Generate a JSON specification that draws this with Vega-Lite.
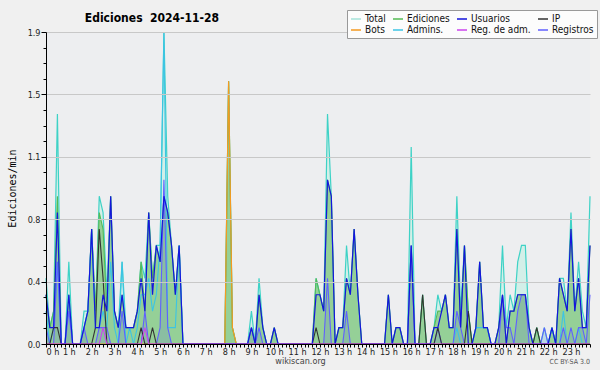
{
  "$schema": "https://vega.github.io/schema/vega-lite/v6.json",
  "autosize": {"type": "none"},
  "width": 544,
  "height": 312,
  "padding": {"left": 46, "top": 32, "right": 10, "bottom": 26},
  "background": "#f0f0f0",
  "config": {
    "view": {"fill": "#edeef0", "stroke": null},
    "font": "DejaVu Sans Condensed, DejaVu Sans"
  },
  "resolve": {"axis": {"x": "independent", "y": "independent"}},
  "data": {
    "values": [
      {"m":0,"T":0.4,"E":0.3,"U":0.3,"I":0,"B":0,"A":0.2,"R":0,"L":0.1},
      {"m":10,"T":0.1,"E":0.1,"U":0.1,"I":0,"B":0,"A":0,"R":0,"L":0},
      {"m":20,"T":0.2,"E":0.2,"U":0.1,"I":0.1,"B":0,"A":0.1,"R":0,"L":0},
      {"m":30,"T":1.4,"E":0.9,"U":0.8,"I":0.1,"B":0,"A":0.5,"R":0,"L":0.5},
      {"m":40,"T":0,"E":0,"U":0,"I":0,"B":0,"A":0,"R":0,"L":0},
      {"m":50,"T":0,"E":0,"U":0,"I":0,"B":0,"A":0,"R":0,"L":0},
      {"m":60,"T":0.5,"E":0.3,"U":0.3,"I":0,"B":0,"A":0.3,"R":0,"L":0.2},
      {"m":70,"T":0,"E":0,"U":0,"I":0,"B":0,"A":0,"R":0,"L":0},
      {"m":80,"T":0,"E":0,"U":0,"I":0,"B":0,"A":0,"R":0,"L":0},
      {"m":90,"T":0,"E":0,"U":0,"I":0,"B":0,"A":0,"R":0,"L":0},
      {"m":100,"T":0.2,"E":0.1,"U":0.1,"I":0,"B":0,"A":0.1,"R":0,"L":0.1},
      {"m":110,"T":0.2,"E":0.2,"U":0.2,"I":0,"B":0,"A":0.2,"R":0,"L":0},
      {"m":120,"T":0.7,"E":0.7,"U":0.7,"I":0,"B":0,"A":0.7,"R":0,"L":0},
      {"m":130,"T":0.2,"E":0.2,"U":0.1,"I":0.1,"B":0,"A":0.1,"R":0,"L":0},
      {"m":140,"T":0.9,"E":0.8,"U":0.1,"I":0.7,"B":0,"A":0.1,"R":0,"L":0.1},
      {"m":150,"T":0.8,"E":0.7,"U":0.3,"I":0.4,"B":0,"A":0.2,"R":0.1,"L":0.1},
      {"m":160,"T":0.3,"E":0.2,"U":0.2,"I":0,"B":0,"A":0.1,"R":0,"L":0.1},
      {"m":170,"T":0.9,"E":0.9,"U":0.9,"I":0,"B":0,"A":0.5,"R":0,"L":0},
      {"m":180,"T":0.2,"E":0.2,"U":0.2,"I":0,"B":0,"A":0.1,"R":0,"L":0},
      {"m":190,"T":0.1,"E":0.1,"U":0.1,"I":0,"B":0,"A":0,"R":0,"L":0},
      {"m":200,"T":0.5,"E":0.3,"U":0.3,"I":0,"B":0,"A":0.5,"R":0,"L":0.2},
      {"m":210,"T":0.1,"E":0.1,"U":0.1,"I":0,"B":0,"A":0,"R":0,"L":0},
      {"m":220,"T":0.1,"E":0.1,"U":0.1,"I":0,"B":0,"A":0.1,"R":0,"L":0},
      {"m":230,"T":0.1,"E":0.1,"U":0.1,"I":0,"B":0,"A":0,"R":0,"L":0},
      {"m":240,"T":0.2,"E":0.2,"U":0.2,"I":0,"B":0,"A":0.1,"R":0,"L":0},
      {"m":250,"T":0.5,"E":0.5,"U":0.4,"I":0.1,"B":0,"A":0.3,"R":0,"L":0},
      {"m":260,"T":0.4,"E":0.2,"U":0.2,"I":0,"B":0,"A":0.3,"R":0.1,"L":0.2},
      {"m":270,"T":0.8,"E":0.8,"U":0.8,"I":0,"B":0,"A":0.4,"R":0,"L":0},
      {"m":280,"T":0.4,"E":0.4,"U":0.3,"I":0.1,"B":0,"A":0.2,"R":0,"L":0},
      {"m":290,"T":0.6,"E":0.6,"U":0.6,"I":0,"B":0,"A":0.3,"R":0,"L":0},
      {"m":300,"T":0.6,"E":0.5,"U":0.5,"I":0,"B":0,"A":0.6,"R":0,"L":0.1},
      {"m":310,"T":1.9,"E":0.9,"U":0.9,"I":0,"B":0,"A":1.9,"R":0,"L":1.0},
      {"m":320,"T":0.9,"E":0.8,"U":0.8,"I":0,"B":0,"A":0.1,"R":0,"L":0.1},
      {"m":330,"T":0.6,"E":0.6,"U":0.6,"I":0,"B":0,"A":0.1,"R":0,"L":0},
      {"m":340,"T":0.3,"E":0.3,"U":0.3,"I":0,"B":0,"A":0.1,"R":0,"L":0},
      {"m":350,"T":0.6,"E":0.6,"U":0.6,"I":0,"B":0,"A":0.6,"R":0,"L":0},
      {"m":360,"T":0,"E":0,"U":0,"I":0,"B":0,"A":0,"R":0,"L":0},
      {"m":370,"T":0,"E":0,"U":0,"I":0,"B":0,"A":0,"R":0,"L":0},
      {"m":380,"T":0,"E":0,"U":0,"I":0,"B":0,"A":0,"R":0,"L":0},
      {"m":390,"T":0,"E":0,"U":0,"I":0,"B":0,"A":0,"R":0,"L":0},
      {"m":400,"T":0,"E":0,"U":0,"I":0,"B":0,"A":0,"R":0,"L":0},
      {"m":410,"T":0,"E":0,"U":0,"I":0,"B":0,"A":0,"R":0,"L":0},
      {"m":420,"T":0,"E":0,"U":0,"I":0,"B":0,"A":0,"R":0,"L":0},
      {"m":430,"T":0,"E":0,"U":0,"I":0,"B":0,"A":0,"R":0,"L":0},
      {"m":440,"T":0,"E":0,"U":0,"I":0,"B":0,"A":0,"R":0,"L":0},
      {"m":450,"T":0,"E":0,"U":0,"I":0,"B":0,"A":0,"R":0,"L":0},
      {"m":460,"T":0,"E":0,"U":0,"I":0,"B":0,"A":0,"R":0,"L":0},
      {"m":470,"T":0,"E":0,"U":0,"I":0,"B":0,"A":0,"R":0,"L":0},
      {"m":480,"T":1.6,"E":1.6,"U":0,"I":0,"B":1.6,"A":0,"R":0,"L":0},
      {"m":490,"T":0.1,"E":0.1,"U":0,"I":0,"B":0.1,"A":0,"R":0,"L":0},
      {"m":500,"T":0,"E":0,"U":0,"I":0,"B":0,"A":0,"R":0,"L":0},
      {"m":510,"T":0,"E":0,"U":0,"I":0,"B":0,"A":0,"R":0,"L":0},
      {"m":520,"T":0,"E":0,"U":0,"I":0,"B":0,"A":0,"R":0,"L":0},
      {"m":530,"T":0,"E":0,"U":0,"I":0,"B":0,"A":0,"R":0,"L":0},
      {"m":540,"T":0.2,"E":0.1,"U":0.1,"I":0,"B":0,"A":0,"R":0,"L":0.1},
      {"m":550,"T":0,"E":0,"U":0,"I":0,"B":0,"A":0,"R":0,"L":0},
      {"m":560,"T":0.4,"E":0.3,"U":0.3,"I":0,"B":0,"A":0,"R":0,"L":0.1},
      {"m":570,"T":0.1,"E":0.1,"U":0.1,"I":0,"B":0,"A":0,"R":0,"L":0},
      {"m":580,"T":0,"E":0,"U":0,"I":0,"B":0,"A":0,"R":0,"L":0},
      {"m":590,"T":0,"E":0,"U":0,"I":0,"B":0,"A":0,"R":0,"L":0},
      {"m":600,"T":0.1,"E":0.1,"U":0.1,"I":0,"B":0,"A":0,"R":0,"L":0},
      {"m":610,"T":0,"E":0,"U":0,"I":0,"B":0,"A":0,"R":0,"L":0},
      {"m":620,"T":0,"E":0,"U":0,"I":0,"B":0,"A":0,"R":0,"L":0},
      {"m":630,"T":0,"E":0,"U":0,"I":0,"B":0,"A":0,"R":0,"L":0},
      {"m":640,"T":0,"E":0,"U":0,"I":0,"B":0,"A":0,"R":0,"L":0},
      {"m":650,"T":0,"E":0,"U":0,"I":0,"B":0,"A":0,"R":0,"L":0},
      {"m":660,"T":0,"E":0,"U":0,"I":0,"B":0,"A":0,"R":0,"L":0},
      {"m":670,"T":0,"E":0,"U":0,"I":0,"B":0,"A":0,"R":0,"L":0},
      {"m":680,"T":0,"E":0,"U":0,"I":0,"B":0,"A":0,"R":0,"L":0},
      {"m":690,"T":0,"E":0,"U":0,"I":0,"B":0,"A":0,"R":0,"L":0},
      {"m":700,"T":0,"E":0,"U":0,"I":0,"B":0,"A":0,"R":0,"L":0},
      {"m":710,"T":0.4,"E":0.4,"U":0.3,"I":0.1,"B":0,"A":0,"R":0,"L":0},
      {"m":720,"T":0.3,"E":0.3,"U":0.3,"I":0,"B":0,"A":0,"R":0,"L":0},
      {"m":730,"T":0.2,"E":0.2,"U":0.2,"I":0,"B":0,"A":0,"R":0,"L":0},
      {"m":740,"T":1.4,"E":1.0,"U":1.0,"I":0,"B":0,"A":0,"R":0,"L":0.4},
      {"m":750,"T":0.9,"E":0.9,"U":0.9,"I":0,"B":0,"A":0,"R":0,"L":0},
      {"m":760,"T":0,"E":0,"U":0,"I":0,"B":0,"A":0,"R":0,"L":0},
      {"m":770,"T":0.1,"E":0.1,"U":0.1,"I":0,"B":0,"A":0,"R":0,"L":0},
      {"m":780,"T":0.1,"E":0.1,"U":0.1,"I":0,"B":0,"A":0,"R":0,"L":0},
      {"m":790,"T":0.6,"E":0.4,"U":0.4,"I":0,"B":0,"A":0,"R":0,"L":0.2},
      {"m":800,"T":0.3,"E":0.3,"U":0.3,"I":0,"B":0,"A":0,"R":0,"L":0},
      {"m":810,"T":0.7,"E":0.7,"U":0.7,"I":0,"B":0,"A":0,"R":0,"L":0},
      {"m":820,"T":0.3,"E":0.3,"U":0.3,"I":0,"B":0,"A":0,"R":0,"L":0},
      {"m":830,"T":0,"E":0,"U":0,"I":0,"B":0,"A":0,"R":0,"L":0},
      {"m":840,"T":0,"E":0,"U":0,"I":0,"B":0,"A":0,"R":0,"L":0},
      {"m":850,"T":0,"E":0,"U":0,"I":0,"B":0,"A":0,"R":0,"L":0},
      {"m":860,"T":0,"E":0,"U":0,"I":0,"B":0,"A":0,"R":0,"L":0},
      {"m":870,"T":0,"E":0,"U":0,"I":0,"B":0,"A":0,"R":0,"L":0},
      {"m":880,"T":0,"E":0,"U":0,"I":0,"B":0,"A":0,"R":0,"L":0},
      {"m":890,"T":0,"E":0,"U":0,"I":0,"B":0,"A":0,"R":0,"L":0},
      {"m":900,"T":0.3,"E":0.3,"U":0.3,"I":0,"B":0,"A":0,"R":0,"L":0},
      {"m":910,"T":0,"E":0,"U":0,"I":0,"B":0,"A":0,"R":0,"L":0},
      {"m":920,"T":0.1,"E":0.1,"U":0.1,"I":0,"B":0,"A":0,"R":0,"L":0},
      {"m":930,"T":0.1,"E":0.1,"U":0.1,"I":0,"B":0,"A":0,"R":0,"L":0},
      {"m":940,"T":0,"E":0,"U":0,"I":0,"B":0,"A":0,"R":0,"L":0},
      {"m":950,"T":0,"E":0,"U":0,"I":0,"B":0,"A":0,"R":0,"L":0},
      {"m":960,"T":1.2,"E":0.6,"U":0.6,"I":0,"B":0,"A":0,"R":0,"L":0.6},
      {"m":970,"T":0,"E":0,"U":0,"I":0,"B":0,"A":0,"R":0,"L":0},
      {"m":980,"T":0,"E":0,"U":0,"I":0,"B":0,"A":0,"R":0,"L":0},
      {"m":990,"T":0.3,"E":0.3,"U":0,"I":0.3,"B":0,"A":0,"R":0,"L":0},
      {"m":1000,"T":0,"E":0,"U":0,"I":0,"B":0,"A":0,"R":0,"L":0},
      {"m":1010,"T":0,"E":0,"U":0,"I":0,"B":0,"A":0,"R":0,"L":0},
      {"m":1020,"T":0.1,"E":0.1,"U":0.1,"I":0,"B":0,"A":0,"R":0,"L":0},
      {"m":1030,"T":0.3,"E":0.2,"U":0.1,"I":0.1,"B":0,"A":0,"R":0,"L":0.1},
      {"m":1040,"T":0.2,"E":0.2,"U":0.2,"I":0,"B":0,"A":0,"R":0,"L":0},
      {"m":1050,"T":0.3,"E":0.3,"U":0.3,"I":0,"B":0,"A":0,"R":0,"L":0},
      {"m":1060,"T":0.1,"E":0.1,"U":0.1,"I":0,"B":0,"A":0,"R":0,"L":0},
      {"m":1070,"T":0.1,"E":0.1,"U":0.1,"I":0,"B":0,"A":0,"R":0,"L":0},
      {"m":1080,"T":0.9,"E":0.7,"U":0.7,"I":0,"B":0,"A":0.1,"R":0,"L":0.2},
      {"m":1090,"T":0.2,"E":0.1,"U":0.1,"I":0,"B":0,"A":0,"R":0,"L":0.1},
      {"m":1100,"T":0.6,"E":0.6,"U":0.6,"I":0,"B":0,"A":0,"R":0,"L":0},
      {"m":1110,"T":0.2,"E":0.2,"U":0,"I":0.2,"B":0,"A":0,"R":0,"L":0},
      {"m":1120,"T":0,"E":0,"U":0,"I":0,"B":0,"A":0,"R":0,"L":0},
      {"m":1130,"T":0.1,"E":0.1,"U":0.1,"I":0,"B":0,"A":0.1,"R":0,"L":0},
      {"m":1140,"T":0.5,"E":0.5,"U":0.5,"I":0,"B":0,"A":0.1,"R":0,"L":0},
      {"m":1150,"T":0.1,"E":0.1,"U":0.1,"I":0,"B":0,"A":0.1,"R":0,"L":0},
      {"m":1160,"T":0.1,"E":0.1,"U":0.1,"I":0,"B":0,"A":0.1,"R":0,"L":0},
      {"m":1170,"T":0,"E":0,"U":0,"I":0,"B":0,"A":0,"R":0,"L":0},
      {"m":1180,"T":0,"E":0,"U":0,"I":0,"B":0,"A":0,"R":0,"L":0},
      {"m":1190,"T":0.1,"E":0.1,"U":0.1,"I":0,"B":0,"A":0,"R":0,"L":0},
      {"m":1200,"T":0.6,"E":0.3,"U":0.3,"I":0,"B":0,"A":0,"R":0,"L":0.3},
      {"m":1210,"T":0.1,"E":0,"U":0,"I":0,"B":0,"A":0,"R":0,"L":0.1},
      {"m":1220,"T":0.3,"E":0.2,"U":0.2,"I":0,"B":0,"A":0,"R":0,"L":0.1},
      {"m":1230,"T":0.2,"E":0.2,"U":0.2,"I":0,"B":0,"A":0,"R":0,"L":0},
      {"m":1240,"T":0.5,"E":0.3,"U":0.3,"I":0,"B":0,"A":0,"R":0,"L":0.2},
      {"m":1250,"T":0.6,"E":0.3,"U":0.3,"I":0,"B":0,"A":0,"R":0,"L":0.3},
      {"m":1260,"T":0.6,"E":0.3,"U":0.3,"I":0,"B":0,"A":0,"R":0,"L":0.3},
      {"m":1270,"T":0.1,"E":0.1,"U":0.1,"I":0,"B":0,"A":0,"R":0,"L":0},
      {"m":1280,"T":0,"E":0,"U":0,"I":0,"B":0,"A":0,"R":0,"L":0},
      {"m":1290,"T":0.1,"E":0.1,"U":0,"I":0.1,"B":0,"A":0,"R":0,"L":0},
      {"m":1300,"T":0,"E":0,"U":0,"I":0,"B":0,"A":0,"R":0,"L":0},
      {"m":1310,"T":0.1,"E":0,"U":0,"I":0,"B":0,"A":0,"R":0,"L":0.1},
      {"m":1320,"T":0,"E":0,"U":0,"I":0,"B":0,"A":0,"R":0,"L":0},
      {"m":1330,"T":0.1,"E":0.1,"U":0.1,"I":0,"B":0,"A":0.1,"R":0,"L":0},
      {"m":1340,"T":0,"E":0,"U":0,"I":0,"B":0,"A":0,"R":0,"L":0},
      {"m":1350,"T":0.4,"E":0.4,"U":0.4,"I":0,"B":0,"A":0,"R":0,"L":0},
      {"m":1360,"T":0.4,"E":0.3,"U":0.3,"I":0,"B":0,"A":0.2,"R":0,"L":0.1},
      {"m":1370,"T":0.2,"E":0.2,"U":0.2,"I":0,"B":0,"A":0,"R":0,"L":0},
      {"m":1380,"T":0.8,"E":0.7,"U":0.7,"I":0,"B":0,"A":0,"R":0,"L":0.1},
      {"m":1390,"T":0.2,"E":0.2,"U":0.2,"I":0,"B":0,"A":0,"R":0,"L":0},
      {"m":1400,"T":0.5,"E":0.4,"U":0.4,"I":0,"B":0,"A":0.1,"R":0,"L":0.1},
      {"m":1410,"T":0.2,"E":0.1,"U":0.1,"I":0,"B":0,"A":0,"R":0,"L":0.1},
      {"m":1420,"T":0.1,"E":0.1,"U":0.1,"I":0,"B":0,"A":0,"R":0,"L":0},
      {"m":1430,"T":0.9,"E":0.6,"U":0.6,"I":0,"B":0,"A":0,"R":0,"L":0.3}
    ]
  },
  "layer": [
    {
      "encoding": {
        "x": {
          "field": "m",
          "type": "quantitative",
          "scale": {"domain": [0, 1430], "nice": false, "zero": false},
          "axis": {
            "values": [0,10,20,30,40,50,60,70,80,90,100,110,120,130,140,150,160,170,180,190,200,210,220,230,240,250,260,270,280,290,300,310,320,330,340,350,360,370,380,390,400,410,420,430,440,450,460,470,480,490,500,510,520,530,540,550,560,570,580,590,600,610,620,630,640,650,660,670,680,690,700,710,720,730,740,750,760,770,780,790,800,810,820,830,840,850,860,870,880,890,900,910,920,930,940,950,960,970,980,990,1000,1010,1020,1030,1040,1050,1060,1070,1080,1090,1100,1110,1120,1130,1140,1150,1160,1170,1180,1190,1200,1210,1220,1230,1240,1250,1260,1270,1280,1290,1300,1310,1320,1330,1340,1350,1360,1370,1380,1390,1400,1410,1420,1430],
            "labelExpr": "datum.value % 60 === 0 ? (datum.value / 60) + ' h' : ''",
            "labelOverlap": false,
            "labelFontSize": 9,
            "labelColor": "#222",
            "labelPadding": 0,
            "tickSize": 3,
            "tickColor": "#000",
            "domainColor": "#000",
            "grid": false,
            "zindex": 1,
            "title": "wikiscan.org",
            "titleFontSize": 9,
            "titleFontWeight": "normal",
            "titleColor": "#444",
            "titleX": 254,
            "titlePadding": 0
          }
        },
        "y": {
          "field": "v",
          "type": "quantitative",
          "scale": {"domain": [0, 1.9], "nice": false},
          "axis": {
            "values": [0,0.095,0.19,0.285,0.38,0.475,0.57,0.665,0.76,0.855,0.95,1.045,1.14,1.235,1.33,1.425,1.52,1.615,1.71,1.805,1.9],
            "labelExpr": "round(datum.value / 0.095) % 4 === 0 ? format(datum.value, '.1f') : ''",
            "labelFontSize": 9,
            "labelColor": "#222",
            "labelPadding": 1,
            "labelOverlap": false,
            "tickSize": {"condition": {"test": "round(datum.value / 0.095) % 4 === 0", "value": 5}, "value": 3},
            "tickColor": "#000",
            "domainColor": "#000",
            "grid": true,
            "gridColor": "#c8c8c8",
            "gridOpacity": {"condition": {"test": "round(datum.value / 0.095) % 4 === 0", "value": 1}, "value": 0},
            "zindex": 1,
            "title": "Ediciones/min",
            "titleFont": "DejaVu Sans Mono",
            "titleFontSize": 10,
            "titleFontWeight": "normal",
            "titleColor": "#000",
            "titlePadding": 10
          }
        }
      },
      "layer": [
        {
          "transform": [{"fold": ["T"], "as": ["k", "v"]}],
          "mark": {"type": "area", "color": "#d3efe8", "opacity": 1}
        },
        {
          "transform": [{"fold": ["E"], "as": ["k", "v"]}],
          "mark": {"type": "area", "color": "#8fcd8f", "opacity": 0.92}
        },
        {
          "transform": [{"fold": ["L"], "as": ["k", "v"]}],
          "mark": {"type": "area", "color": "#5b6fd6", "opacity": 0.18}
        },
        {
          "transform": [{"fold": ["T"], "as": ["k", "v"]}],
          "mark": {"type": "line", "strokeWidth": 1.2, "color": "#3ed2c6"}
        },
        {
          "transform": [{"fold": ["E"], "as": ["k", "v"]}],
          "mark": {"type": "line", "strokeWidth": 1.1},
          "encoding": {
            "color": {
              "datum": "Ediciones",
              "type": "nominal",
              "scale": {
                "domain": ["Total", "Ediciones", "Usuarios", "IP", "Bots", "Admins.", "Reg. de adm.", "Registros"],
                "range": ["#a6e3da", "#55bb55", "#1515dd", "#333333", "#f59a20", "#3cc4e4", "#cc44ee", "#6060ff"]
              },
              "legend": {
                "title": null,
                "orient": "none",
                "legendX": 301,
                "legendY": -22,
                "direction": "horizontal",
                "columns": 4,
                "symbolType": "stroke",
                "symbolStrokeWidth": 1.5,
                "symbolSize": 100,
                "labelFontSize": 10,
                "labelColor": "#111",
                "labelOffset": 3,
                "rowPadding": 0,
                "columnPadding": 4,
                "padding": 3,
                "fillColor": "#fcfcfc",
                "strokeColor": "#999999",
                "zindex": 3
              }
            }
          }
        },
        {
          "transform": [{"fold": ["A"], "as": ["k", "v"]}],
          "mark": {"type": "line", "strokeWidth": 1.1},
          "encoding": {"color": {"datum": "Admins.", "type": "nominal"}}
        },
        {
          "transform": [{"fold": ["L"], "as": ["k", "v"]}],
          "mark": {"type": "line", "strokeWidth": 1.1},
          "encoding": {"color": {"datum": "Registros", "type": "nominal"}}
        },
        {
          "transform": [{"fold": ["B"], "as": ["k", "v"]}],
          "mark": {"type": "line", "strokeWidth": 1.2},
          "encoding": {"color": {"datum": "Bots", "type": "nominal"}}
        },
        {
          "transform": [{"fold": ["I"], "as": ["k", "v"]}],
          "mark": {"type": "line", "strokeWidth": 1.1},
          "encoding": {"color": {"datum": "IP", "type": "nominal"}}
        },
        {
          "transform": [{"fold": ["U"], "as": ["k", "v"]}],
          "mark": {"type": "line", "strokeWidth": 1.2},
          "encoding": {"color": {"datum": "Usuarios", "type": "nominal"}}
        },
        {
          "transform": [{"fold": ["R"], "as": ["k", "v"]}],
          "mark": {"type": "line", "strokeWidth": 1.1},
          "encoding": {"color": {"datum": "Reg. de adm.", "type": "nominal"}}
        }
      ]
    },
    {
      "data": {"values": [{"t": "Ediciones\u00a0 2024-11-28"}]},
      "mark": {"type": "text", "align": "left", "baseline": "alphabetic", "dy": -10, "fontSize": 12, "fontWeight": "bold", "color": "#000"},
      "encoding": {
        "x": {"datum": 102, "type": "quantitative", "axis": null},
        "y": {"datum": 1.9, "type": "quantitative", "axis": null},
        "text": {"field": "t"}
      }
    },
    {
      "data": {"values": [{"t": "CC BY-SA 3.0"}]},
      "mark": {"type": "text", "align": "right", "baseline": "middle", "dy": 18, "fontSize": 7, "color": "#555"},
      "encoding": {
        "x": {"datum": 1430, "type": "quantitative", "axis": null},
        "y": {"datum": 0, "type": "quantitative", "axis": null},
        "text": {"field": "t"}
      }
    }
  ]
}
